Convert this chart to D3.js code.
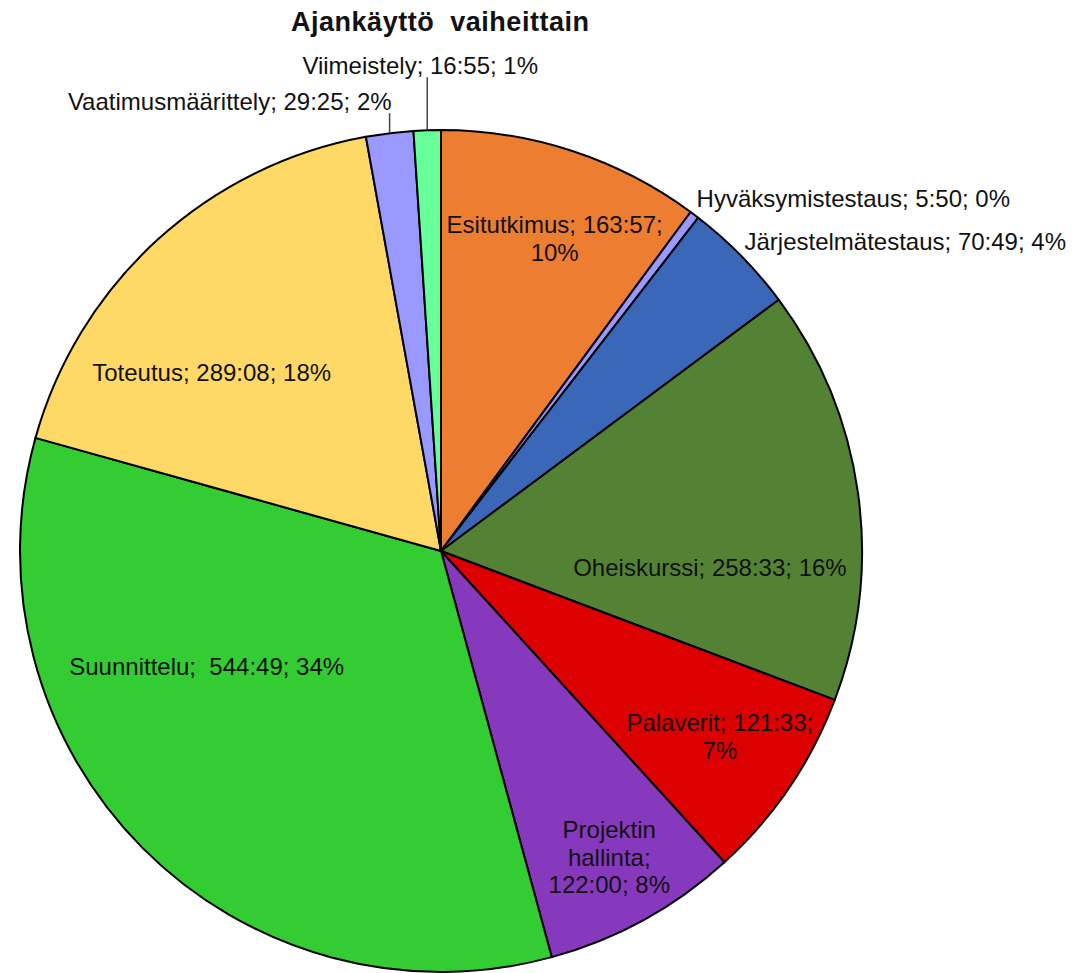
<!DOCTYPE html>
<html>
<head>
<meta charset="utf-8">
<script src="https://cdn.jsdelivr.net/npm/d3@7"></script>
<style>
    body { margin: 0; background: #fff; }
    text { font-family: "Liberation Sans", Arial, sans-serif; fill: #111; }
</style>
</head>
<body>
<svg id="pie" width="1077" height="973"></svg>
<script>
// Phases and time spent (hours:minutes), clockwise from the top
const phases = ["Esitutkimus", "Hyväksymistestaus", "Järjestelmätestaus", "Oheiskurssi", "Palaverit",
    "Projektin hallinta", "Suunnittelu", "Toteutus", "Vaatimusmäärittely", "Viimeistely"];
const times = ["163:57", "5:50", "70:49", "258:33", "121:33", "122:00", "544:49", "289:08", "29:25", "16:55"];
const percents = ["10%", "0%", "4%", "16%", "7%", "8%", "34%", "18%", "2%", "1%"];

// Colors array
const colors = ["#ED7D31", "#9999FF", "#3A67B8", "#548235", "#DD0000",
    "#8639BD", "#33CC33", "#FFD966", "#9999FF", "#66FF99"];

// label placement: angle offset from slice middle (deg), radius factor, anchor, line breaks
const labelPlace = [
    { dAng: 1.8, rf: 0.79, anchor: "middle", lines: d => [d.name + "; " + d.time + ";", d.pct] },
    { dAng: -1.1, rf: 1.035, anchor: "start", lines: d => [d.name + "; " + d.time + "; " + d.pct] },
    { dAng: -1.1, rf: 1.03, anchor: "start", lines: d => [d.name + "; " + d.time + "; " + d.pct] },
    { dAng: 11.4, rf: 0.64, anchor: "middle", lines: d => [d.name + "; " + d.time + "; " + d.pct] },
    { dAng: -0.6, rf: 0.795, anchor: "middle", lines: d => [d.name + "; " + d.time + ";", d.pct] },
    { dAng: 0, rf: 0.83, anchor: "middle", lines: d => ["Projektin", "hallinta;", d.time + "; " + d.pct] },
    { dAng: 18.7, rf: 0.62, anchor: "middle", lines: d => [d.name + ";  " + d.time + "; " + d.pct] },
    { dAng: -9.8, rf: 0.69, anchor: "middle", lines: d => [d.name + "; " + d.time + "; " + d.pct] },
    { leader: 20, anchor: "end", lines: d => [d.name + "; " + d.time + "; " + d.pct] },
    { leader: 53, anchor: "middle", shift: -7, lines: d => [d.name + "; " + d.time + "; " + d.pct] }
];

const toMinutes = t => { const p = t.split(":"); return +p[0] * 60 + +p[1]; };
const data = phases.map((name, i) => ({ name: name, time: times[i], pct: percents[i], value: toMinutes(times[i]) }));

const cx = 441, cy = 551, radius = 421;
const svg = d3.select("#pie");

// Title
svg.append("text")
    .attr("x", 440)
    .attr("y", 31)
    .attr("text-anchor", "middle")
    .style("font-size", "27px")
    .style("font-weight", "bold")
    .style("white-space", "pre")
    .attr("textLength", 298)
    .text("Ajankäyttö  vaiheittain");

const g = svg.append("g").attr("transform", `translate(${cx}, ${cy})`);

const pie = d3.pie().sort(null).value(d => d.value);
const arc = d3.arc().innerRadius(0).outerRadius(radius);
const arcs = pie(data);

g.selectAll(".slice")
    .data(arcs)
    .enter()
    .append("path")
    .attr("class", "slice")
    .attr("d", arc)
    .attr("fill", (d, i) => colors[i])
    .attr("stroke", "#000")
    .attr("stroke-width", 2)
    .attr("stroke-linejoin", "round");

const fontSize = 24, lineH = 27.5;

arcs.forEach((a, i) => {
    const lp = labelPlace[i];
    const mid = (a.startAngle + a.endAngle) / 2;
    const lines = lp.lines(a.data);
    let x, y;
    if (lp.leader) {
        const p = d3.arc().innerRadius(radius).outerRadius(radius).centroid({ startAngle: mid, endAngle: mid });
        const top = p[1] - lp.leader;
        g.append("line")
            .attr("x1", p[0]).attr("y1", p[1])
            .attr("x2", p[0]).attr("y2", top)
            .attr("stroke", "#444")
            .attr("stroke-width", 1.5);
        x = p[0] + (lp.anchor === "end" ? 2 : (lp.shift || 0));
        y = top - 3;
    } else {
        const ang = mid + lp.dAng * Math.PI / 180;
        const r = radius * lp.rf;
        const p = d3.arc().innerRadius(r).outerRadius(r).centroid({ startAngle: ang, endAngle: ang });
        x = p[0];
        y = p[1] - (lines.length - 1) * lineH / 2 + fontSize * 0.36;
    }
    const t = g.append("text")
        .attr("x", x)
        .attr("y", y)
        .attr("text-anchor", lp.anchor)
        .style("font-size", fontSize + "px")
        .style("white-space", "pre");
    lines.forEach((ln, j) => {
        t.append("tspan")
            .attr("x", x)
            .attr("dy", j === 0 ? 0 : lineH)
            .text(ln);
    });
});
</script>
</body>
</html>
